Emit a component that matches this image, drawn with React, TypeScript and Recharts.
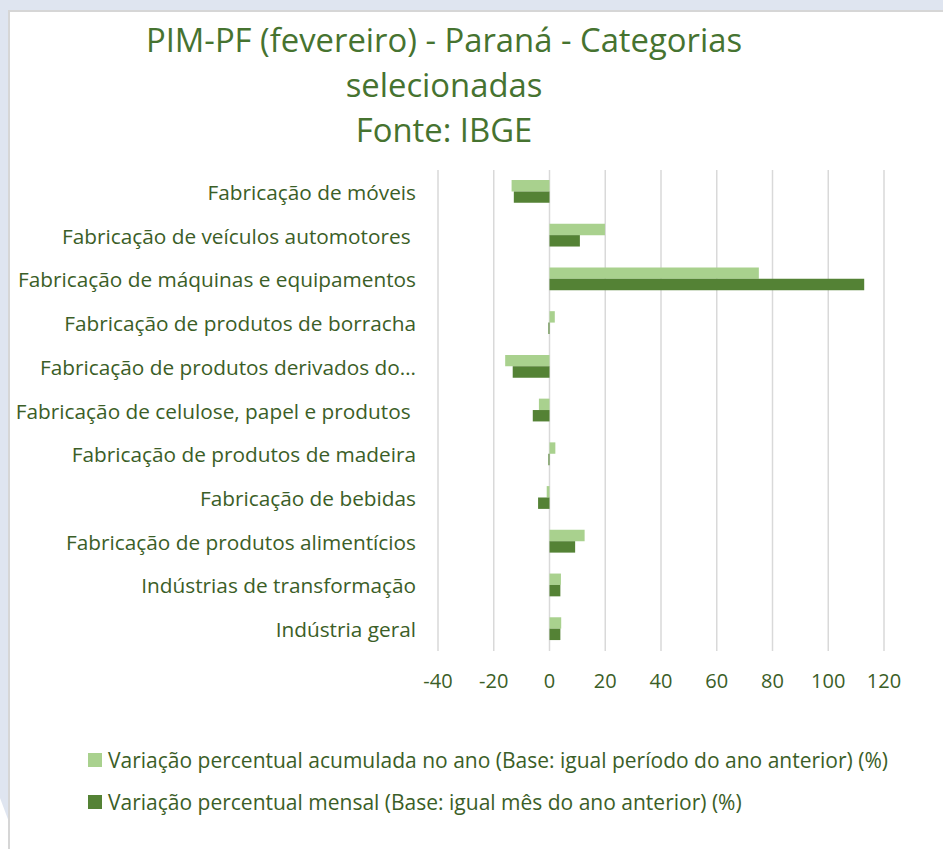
import React from "react";
import { BarChart, Bar, XAxis, YAxis, CartesianGrid } from "recharts";

const categories = [
  "Fabricação de móveis",
  "Fabricação de veículos automotores ",
  "Fabricação de máquinas e equipamentos",
  "Fabricação de produtos de borracha",
  "Fabricação de produtos derivados do…",
  "Fabricação de celulose, papel e produtos ",
  "Fabricação de produtos de madeira",
  "Fabricação de bebidas",
  "Fabricação de produtos alimentícios",
  "Indústrias de transformação",
  "Indústria geral",
];

const acumulada = [-13.6, 19.9, 75.1, 1.9, -15.9, -3.8, 2.1, -1.0, 12.6, 4.1, 4.2];
const mensal = [-12.8, 10.9, 112.9, -0.4, -13.2, -6.0, -0.4, -4.1, 9.2, 3.9, 3.9];

const xTicks = [-40, -20, 0, 20, 40, 60, 80, 100, 120];

const seriesNames = [
  "Variação percentual acumulada no ano (Base: igual período do ano anterior) (%)",
  "Variação percentual mensal (Base: igual mês do ano anterior) (%)",
];

const titleLines = ["PIM-PF (fevereiro) - Paraná - Categorias", "selecionadas", "Fonte: IBGE"];

const LIGHT = "#a9d18e";
const DARK = "#548235";
const TEXT = "#3b5e27";
const TITLE = "#467330";
const FONT = "'Open Sans', 'Noto Sans', sans-serif";

const data = categories.map((c, i) => ({ name: c, acumulada: acumulada[i], mensal: mensal[i] }));

const YTick = (props: any) => {
  const { x, y, payload } = props;
  return (
    <text
      x={x}
      y={y}
      textAnchor="end"
      dominantBaseline="central"
      fill={TEXT}
      fontSize={20.8}
      fontFamily={FONT}
      style={{ whiteSpace: "pre" }}
    >
      {payload.value}
    </text>
  );
};

export default function App() {
  return (
    <div
      style={{
        position: "absolute",
        left: 0,
        top: 0,
        width: 943,
        height: 849,
        background: "#ffffff",
        overflow: "hidden",
      }}
    >
      <div style={{ position: "absolute", left: 0, top: 0, width: 943, height: 10, background: "#dfe5f0" }} />
      <div
        style={{
          position: "absolute",
          left: 0,
          top: 0,
          width: 8,
          height: 849,
          background: "#dfe5f0",
          clipPath: "polygon(0 0, 100% 0, 100% 96.5%, 0 94%)",
        }}
      />
      <div style={{ position: "absolute", left: 8, top: 10, width: 935, height: 2, background: "#d6d6d6" }} />
      <div style={{ position: "absolute", left: 8, top: 10, width: 2, height: 839, background: "#d6d6d6" }} />

      {titleLines.map((t, i) => (
        <div
          key={t}
          style={{
            position: "absolute",
            left: 0,
            width: 888,
            top: 20 + i * 45,
            textAlign: "center",
            fontFamily: FONT,
            fontSize: 32.8,
            lineHeight: "40px",
            color: TITLE,
            whiteSpace: "nowrap",
          }}
        >
          {t}
        </div>
      ))}

      <div style={{ position: "absolute", left: 0, top: 0 }}>
        <BarChart
          width={943}
          height={849}
          data={data}
          layout="vertical"
          margin={{ top: 170, right: 59, bottom: 138, left: 0 }}
          barGap={0}
          barSize={11.4}
        >
          <CartesianGrid horizontal={false} vertical={true} stroke="#d9d9d9" strokeWidth={1.5} />
          <XAxis
            type="number"
            domain={[-40, 120]}
            ticks={xTicks}
            axisLine={false}
            tickLine={false}
            tickSize={0}
            tickMargin={23}
            height={60}
            interval={0}
            tick={{ fill: TEXT, fontSize: 20, fontFamily: FONT }}
          />
          <YAxis
            type="category"
            dataKey="name"
            width={438}
            axisLine={false}
            tickLine={false}
            tickSize={0}
            tickMargin={22}
            interval={0}
            tick={<YTick />}
          />
          <Bar dataKey="acumulada" name={seriesNames[0]} fill={LIGHT} isAnimationActive={false} />
          <Bar dataKey="mensal" name={seriesNames[1]} fill={DARK} isAnimationActive={false} />
        </BarChart>
      </div>

      <div
        style={{
          position: "absolute",
          left: 88,
          top: 739,
          fontFamily: FONT,
          fontSize: 21,
          color: TEXT,
        }}
      >
        {seriesNames.map((n, i) => (
          <div key={n} style={{ display: "flex", alignItems: "center", height: 42 }}>
            <span
              style={{
                display: "inline-block",
                width: 14,
                height: 14,
                background: i === 0 ? LIGHT : DARK,
                marginRight: 6,
              }}
            />
            <span style={{ whiteSpace: "nowrap" }}>{n}</span>
          </div>
        ))}
      </div>
    </div>
  );
}
